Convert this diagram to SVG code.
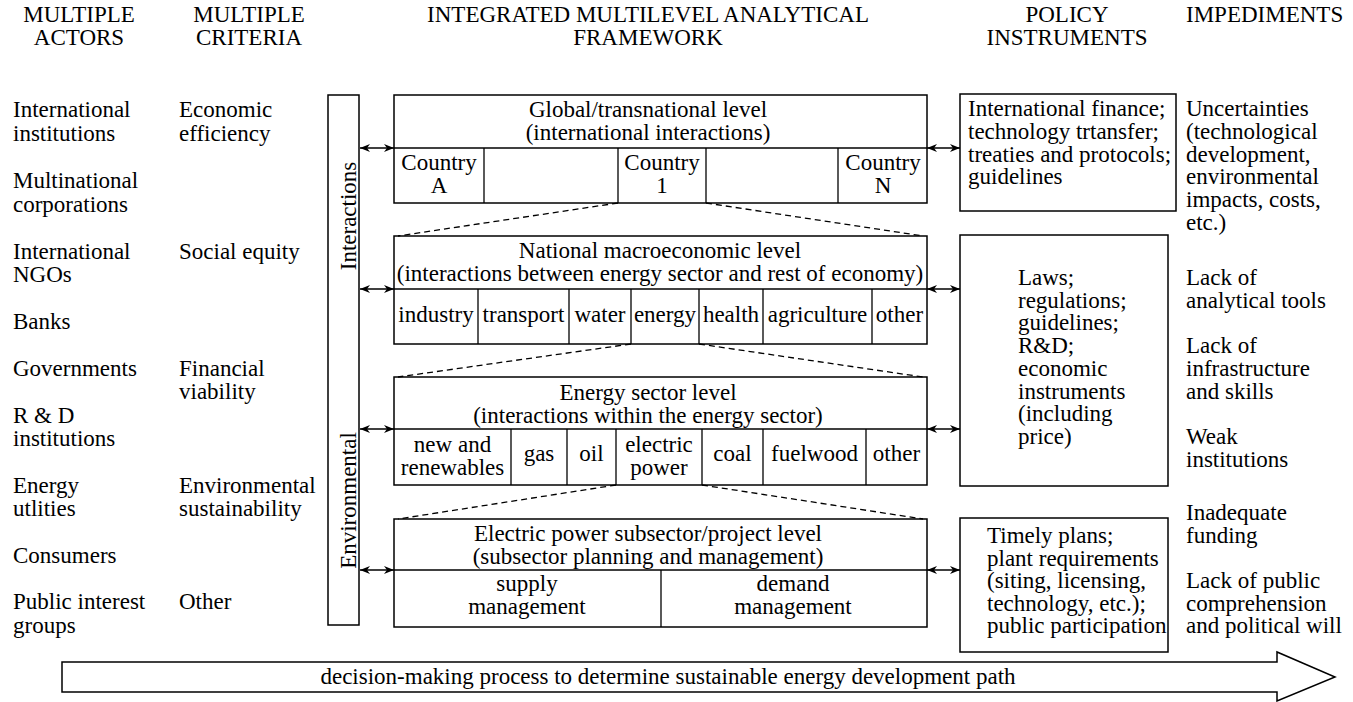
<svg xmlns="http://www.w3.org/2000/svg" width="1353" height="702" viewBox="0 0 1353 702" font-family="'Liberation Serif', 'Times New Roman', Times, serif" font-size="23">
<defs>
<style>
text{font-family:'Liberation Serif','Times New Roman',Times,serif;font-size:23px;fill:#000}
.c{text-anchor:middle}
.box{fill:#fff;stroke:#000;stroke-width:1.5}
.ln{fill:none;stroke:#000;stroke-width:1.3}
.dash{fill:none;stroke:#000;stroke-width:1.3;stroke-dasharray:6 4}
.arr{fill:none;stroke:#000;stroke-width:1.5;marker-start:url(#ah);marker-end:url(#ah)}
</style>
<marker id="ah" viewBox="0 0 10 8" refX="10" refY="4" markerWidth="10" markerHeight="8" markerUnits="userSpaceOnUse" orient="auto-start-reverse">
<path d="M0,0 L10,4 L0,8 L3,4 z" fill="#000"/>
</marker>
</defs>
<rect width="1353" height="702" fill="#fff"/>

<g id="headers">
<text class="c" x="79" y="22">MULTIPLE</text>
<text class="c" x="79" y="45">ACTORS</text>
<text class="c" x="249" y="22">MULTIPLE</text>
<text class="c" x="249" y="45">CRITERIA</text>
<text class="c" x="648" y="22">INTEGRATED MULTILEVEL ANALYTICAL</text>
<text class="c" x="648" y="45">FRAMEWORK</text>
<text class="c" x="1067" y="22">POLICY</text>
<text class="c" x="1067" y="45">INSTRUMENTS</text>
<text x="1186" y="22">IMPEDIMENTS</text>
</g>

<g id="actors">
<text x="13" y="117">International</text>
<text x="13" y="140.5">institutions</text>
<text x="13" y="188">Multinational</text>
<text x="13" y="211.5">corporations</text>
<text x="13" y="258.5">International</text>
<text x="13" y="282">NGOs</text>
<text x="13" y="328.5">Banks</text>
<text x="13" y="375.5">Governments</text>
<text x="13" y="422.5">R &amp; D</text>
<text x="13" y="446">institutions</text>
<text x="13" y="492.5">Energy</text>
<text x="13" y="516">utlities</text>
<text x="13" y="563">Consumers</text>
<text x="13" y="609">Public interest</text>
<text x="13" y="632.5">groups</text>
</g>

<g id="criteria">
<text x="179" y="117">Economic</text>
<text x="179" y="140.5">efficiency</text>
<text x="179" y="258.5">Social equity</text>
<text x="179" y="375.5">Financial</text>
<text x="179" y="399">viability</text>
<text x="179" y="492.5">Environmental</text>
<text x="179" y="516">sustainability</text>
<text x="179" y="609">Other</text>
</g>

<g id="interactions-environmental">
<rect class="box" x="328" y="95" width="31" height="530"/>
<text class="c" transform="translate(356,216) rotate(-90)">Interactions</text>
<text class="c" transform="translate(356,500.5) rotate(-90)">Environmental</text>
</g>

<g id="global-level">
<rect class="box" x="394" y="95" width="533" height="108"/>
<line class="ln" x1="394" y1="148" x2="927" y2="148"/>
<line class="ln" x1="484" y1="148" x2="484" y2="203"/>
<line class="ln" x1="618" y1="148" x2="618" y2="203"/>
<line class="ln" x1="706" y1="148" x2="706" y2="203"/>
<line class="ln" x1="838" y1="148" x2="838" y2="203"/>
<text class="c" x="648" y="117">Global/transnational level</text>
<text class="c" x="648" y="140">(international interactions)</text>
<text class="c" x="439" y="170">Country</text>
<text class="c" x="439" y="193">A</text>
<text class="c" x="662" y="170">Country</text>
<text class="c" x="662" y="193">1</text>
<text class="c" x="883" y="170">Country</text>
<text class="c" x="883" y="193">N</text>
</g>

<g id="national-level">
<rect class="box" x="394" y="236" width="533" height="108"/>
<line class="ln" x1="394" y1="289" x2="927" y2="289"/>
<line class="ln" x1="478" y1="289" x2="478" y2="344"/>
<line class="ln" x1="569" y1="289" x2="569" y2="344"/>
<line class="ln" x1="631" y1="289" x2="631" y2="344"/>
<line class="ln" x1="699" y1="289" x2="699" y2="344"/>
<line class="ln" x1="763" y1="289" x2="763" y2="344"/>
<line class="ln" x1="872" y1="289" x2="872" y2="344"/>
<text class="c" x="660" y="258">National macroeconomic level</text>
<text class="c" x="660" y="281">(interactions between energy sector and rest of economy)</text>
<text class="c" x="436" y="322">industry</text>
<text class="c" x="523.5" y="322">transport</text>
<text class="c" x="600" y="322">water</text>
<text class="c" x="665" y="322">energy</text>
<text class="c" x="731" y="322">health</text>
<text class="c" x="817.5" y="322">agriculture</text>
<text class="c" x="899.5" y="322">other</text>
</g>

<g id="energy-sector-level">
<rect class="box" x="394" y="377" width="533" height="108"/>
<line class="ln" x1="394" y1="429" x2="927" y2="429"/>
<line class="ln" x1="511" y1="429" x2="511" y2="485"/>
<line class="ln" x1="567" y1="429" x2="567" y2="485"/>
<line class="ln" x1="616" y1="429" x2="616" y2="485"/>
<line class="ln" x1="702" y1="429" x2="702" y2="485"/>
<line class="ln" x1="763" y1="429" x2="763" y2="485"/>
<line class="ln" x1="866" y1="429" x2="866" y2="485"/>
<text class="c" x="648" y="400">Energy sector level</text>
<text class="c" x="648" y="423">(interactions within the energy sector)</text>
<text class="c" x="452.5" y="452">new and</text>
<text class="c" x="452.5" y="475">renewables</text>
<text class="c" x="539" y="461">gas</text>
<text class="c" x="591.5" y="461">oil</text>
<text class="c" x="659" y="452">electric</text>
<text class="c" x="659" y="475">power</text>
<text class="c" x="732.5" y="461">coal</text>
<text class="c" x="814.5" y="461">fuelwood</text>
<text class="c" x="896.5" y="461">other</text>
</g>

<g id="electric-power-level">
<rect class="box" x="394" y="519" width="533" height="108"/>
<line class="ln" x1="394" y1="570" x2="927" y2="570"/>
<line class="ln" x1="661" y1="570" x2="661" y2="627"/>
<text class="c" x="648" y="541">Electric power subsector/project level</text>
<text class="c" x="648" y="564">(subsector planning and management)</text>
<text class="c" x="527" y="591">supply</text>
<text class="c" x="527" y="614">management</text>
<text class="c" x="793" y="591">demand</text>
<text class="c" x="793" y="614">management</text>
</g>

<g id="policy-international">
<rect class="box" x="960" y="94" width="216" height="117"/>
<text x="968" y="116">International finance;</text>
<text x="968" y="139">technology trtansfer;</text>
<text x="968" y="161.5">treaties and protocols;</text>
<text x="968" y="184">guidelines</text>
</g>

<g id="policy-national">
<rect class="box" x="960" y="235" width="208" height="251"/>
<text x="1018" y="285">Laws;</text>
<text x="1018" y="307.7">regulations;</text>
<text x="1018" y="330.4">guidelines;</text>
<text x="1018" y="353.1">R&amp;D;</text>
<text x="1018" y="375.8">economic</text>
<text x="1018" y="398.5">instruments</text>
<text x="1018" y="421.2">(including</text>
<text x="1018" y="443.9">price)</text>
</g>

<g id="policy-project">
<rect class="box" x="960" y="518" width="208" height="134"/>
<text x="987" y="543">Timely plans;</text>
<text x="987" y="565.6">plant requirements</text>
<text x="987" y="588.2">(siting, licensing,</text>
<text x="987" y="610.8">technology, etc.);</text>
<text x="987" y="633.4">public participation</text>
</g>

<g id="impediments">
<text x="1186" y="116">Uncertainties</text>
<text x="1186" y="139">(technological</text>
<text x="1186" y="161.5">development,</text>
<text x="1186" y="184">environmental</text>
<text x="1186" y="207">impacts, costs,</text>
<text x="1186" y="230">etc.)</text>
<text x="1186" y="285">Lack of</text>
<text x="1186" y="307.7">analytical tools</text>
<text x="1186" y="353.1">Lack of</text>
<text x="1186" y="375.8">infrastructure</text>
<text x="1186" y="398.5">and skills</text>
<text x="1186" y="443.9">Weak</text>
<text x="1186" y="466.6">institutions</text>
<text x="1186" y="520">Inadequate</text>
<text x="1186" y="543">funding</text>
<text x="1186" y="588.2">Lack of public</text>
<text x="1186" y="610.8">comprehension</text>
<text x="1186" y="633.4">and political will</text>
</g>

<g id="connectors">
<line class="dash" x1="618" y1="203" x2="398" y2="236"/>
<line class="dash" x1="706" y1="203" x2="923" y2="236"/>
<line class="dash" x1="631" y1="344" x2="398" y2="377"/>
<line class="dash" x1="699" y1="344" x2="923" y2="377"/>
<line class="dash" x1="616" y1="485" x2="398" y2="519"/>
<line class="dash" x1="702" y1="485" x2="923" y2="519"/>
<line class="arr" x1="360" y1="148" x2="394" y2="148"/>
<line class="arr" x1="360" y1="289" x2="394" y2="289"/>
<line class="arr" x1="360" y1="429" x2="394" y2="429"/>
<line class="arr" x1="360" y1="570" x2="394" y2="570"/>
<line class="arr" x1="927" y1="148" x2="960" y2="148"/>
<line class="arr" x1="927" y1="289" x2="960" y2="289"/>
<line class="arr" x1="927" y1="429" x2="960" y2="429"/>
<line class="arr" x1="927" y1="570" x2="960" y2="570"/>
</g>

<g id="process-arrow">
<polygon class="box" points="62,662 1277,662 1277,652 1335,677 1277,701 1277,692 62,692"/>
<text class="c" x="668" y="684">decision-making process to determine sustainable energy development path</text>
</g>
</svg>
